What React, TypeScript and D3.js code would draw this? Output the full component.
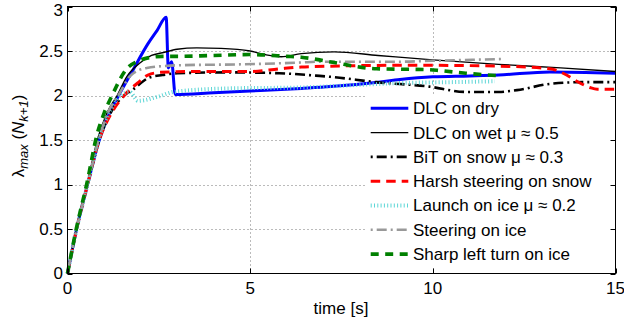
import * as d3 from 'd3'

// time [s], lambda_max values
const dlcDry: [number, number][] = [
  [0, 0], [0.25, 0.5], [0.55, 1.0], [0.87, 1.5], [1.15, 1.8], [1.4, 2.0], [1.77, 2.27],
  [2.2, 2.58], [2.45, 2.73], [2.7, 2.88], [2.76, 2.31], [2.85, 2.38], [2.95, 2.01],
  [4, 2.03], [5, 2.05], [6.4, 2.08], [7.2, 2.1], [8.5, 2.15], [9.1, 2.18], [10, 2.21],
  [11, 2.22], [11.8, 2.23], [13.2, 2.265], [15, 2.25],
]
const dlcWet: [number, number][] = [
  [0, 0], [0.25, 0.5], [0.55, 1.02], [0.83, 1.52], [1.1, 1.82], [1.36, 2.0], [1.62, 2.21],
  [2.0, 2.37], [2.3, 2.45], [2.6, 2.48], [3.0, 2.52], [3.54, 2.535], [4.2, 2.53], [5, 2.5],
  [5.4, 2.46], [5.85, 2.435], [6.4, 2.47], [7.3, 2.49], [8.5, 2.45], [10, 2.4], [11.8, 2.35],
  [13.5, 2.31], [15, 2.27],
]
const bitSnow: [number, number][] = [
  [0, 0], [0.25, 0.5], [0.55, 1.0], [0.87, 1.5], [1.2, 1.82], [1.55, 2.0], [1.77, 2.06],
  [2.23, 2.2], [2.6, 2.23], [3.0, 2.25], [4.45, 2.26], [5.8, 2.25], [6.9, 2.22], [7.2, 2.21],
  [8.45, 2.15], [9.9, 2.1], [10.9, 2.04], [11.8, 2.04], [12.3, 2.06], [13.2, 2.13],
  [14.1, 2.15], [15, 2.15],
]
const harshSnow: [number, number][] = [
  [0, 0], [0.25, 0.5], [0.55, 1.0], [0.87, 1.5], [1.2, 1.8], [1.55, 2.0], [1.95, 2.15],
  [2.2, 2.23], [2.54, 2.26], [3.45, 2.27], [5, 2.27], [5.8, 2.3], [6.4, 2.32], [7.2, 2.33],
  [9.5, 2.34], [11.8, 2.33], [13.2, 2.3], [13.66, 2.23], [13.9, 2.17], [14.3, 2.09],
  [14.5, 2.07], [15, 2.07],
]
const launchIce: [number, number][] = [
  [0, 0], [0.25, 0.5], [0.55, 1.0], [0.86, 1.5], [1.2, 1.85], [1.45, 2.0], [1.7, 2.04],
  [1.93, 1.94], [2.5, 1.99], [2.9, 2.04], [4.45, 2.08], [6.4, 2.09], [8, 2.12], [9.1, 2.14],
  [10.5, 2.15], [11.7, 2.16],
]
const steeringIce: [number, number][] = [
  [0, 0], [0.25, 0.5], [0.55, 1.0], [0.85, 1.5], [1.1, 1.8], [1.42, 2.02], [1.72, 2.22],
  [2.17, 2.31], [3.08, 2.34], [4.7, 2.35], [6.36, 2.37], [6.9, 2.38], [9.1, 2.38],
  [10, 2.39], [11.9, 2.41],
]
const sharpLeftIce: [number, number][] = [
  [0, 0], [0.25, 0.52], [0.55, 1.05], [0.8, 1.55], [1.0, 1.8], [1.22, 2.0], [1.62, 2.3],
  [1.9, 2.38], [2.17, 2.42], [2.6, 2.44], [3.0, 2.44], [4.0, 2.45], [5.0, 2.46], [6.0, 2.44],
  [6.4, 2.43], [6.9, 2.4], [7.3, 2.37], [8.46, 2.3], [9.9, 2.29], [10.2, 2.28],
  [10.9, 2.25], [11.9, 2.22],
]

const xTicks = [0, 5, 10, 15]
const yTicks = [0, 0.5, 1, 1.5, 2, 2.5, 3]

const series = [
  { label: 'DLC on dry', data: dlcDry, color: '#0000ff', width: 3, dash: null },
  { label: 'DLC on wet μ ≈ 0.5', data: dlcWet, color: '#000000', width: 1.4, dash: null },
  { label: 'BiT on snow μ ≈ 0.3', data: bitSnow, color: '#000000', width: 2.6, dash: '2,4,10,4' },
  { label: 'Harsh steering on snow', data: harshSnow, color: '#ff0000', width: 3, dash: '9.5,6' },
  { label: 'Launch on ice μ ≈ 0.2', data: launchIce, color: '#5cd6d6', width: 4, dash: '1,2.3' },
  { label: 'Steering on ice', data: steeringIce, color: '#999999', width: 2.6, dash: '2,4,10,4' },
  { label: 'Sharp left turn on ice', data: sharpLeftIce, color: '#008000', width: 3.6, dash: '8,6.5' },
]

const W = 624
const H = 321
const font = '"Liberation Sans", Arial, Helvetica, sans-serif'

export default function App() {
  const x = d3.scaleLinear().domain([0, 15]).range([67.5, 615.5])
  const y = d3.scaleLinear().domain([0, 3]).range([273.5, 6.5])
  const line = d3.line<[number, number]>()
    .x(d => x(d[0])).y(d => y(d[1]))
    .curve(d3.curveMonotoneX)

  const [x0, x1] = x.range()
  const [y0, y1] = y.range()
  const tick = 5

  const legX = 370.7
  const legY = 108.3
  const legStep = 24.3

  return (
    <div style={{ position: 'fixed', left: 0, top: 0, width: W, height: H, background: '#fff' }}>
      <svg width={W} height={H} style={{ display: 'block', fontFamily: font }}>
        <rect width={W} height={H} fill="#fff" />

        {/* grid */}
        <g stroke="#666" strokeWidth={0.9} strokeDasharray="1,3">
          {xTicks.filter(t => t > 0 && t < 15).map(t => (
            <line key={'gx' + t} x1={Math.round(x(t)) + 0.5} x2={Math.round(x(t)) + 0.5} y1={y0} y2={y1} />
          ))}
          {yTicks.filter(t => t > 0 && t < 3).map(t => (
            <line key={'gy' + t} x1={x0} x2={x1} y1={Math.round(y(t)) + 0.5} y2={Math.round(y(t)) + 0.5} />
          ))}
        </g>

        {/* series */}
        <g fill="none" strokeLinejoin="round">
          {series.map(s => (
            <path key={s.label} d={line(s.data) || ''} stroke={s.color} strokeWidth={s.width}
              strokeDasharray={s.dash || undefined} />
          ))}
        </g>

        {/* legend */}
        <rect x={366} y={95} width={245} height={172} fill="#fff" />
        {series.map((s, i) => {
          const ly = legY + i * legStep
          return (
            <g key={'leg' + s.label}>
              <line x1={legX} x2={legX + 37.6} y1={ly} y2={ly} stroke={s.color} strokeWidth={s.width}
                strokeDasharray={s.dash || undefined} />
              <text x={413} y={ly} dy="0.35em" fontSize={17} fill="#000">{s.label}</text>
            </g>
          )
        })}

        {/* axes box + ticks */}
        <g stroke="#000" strokeWidth={1} fill="none">
          <rect x={x0} y={y1} width={x1 - x0} height={y0 - y1} />
          {xTicks.map(t => {
            const px = Math.round(x(t)) + 0.5
            return (
              <g key={'tx' + t}>
                <line x1={px} x2={px} y1={y0} y2={y0 - tick} />
                <line x1={px} x2={px} y1={y1} y2={y1 + tick} />
              </g>
            )
          })}
          {yTicks.map(t => {
            const py = Math.round(y(t)) + 0.5
            return (
              <g key={'ty' + t}>
                <line x1={x0} x2={x0 + tick} y1={py} y2={py} />
                <line x1={x1} x2={x1 - tick} y1={py} y2={py} />
              </g>
            )
          })}
        </g>

        {/* tick labels */}
        <g fontSize={17} fill="#000">
          {xTicks.map(t => (
            <text key={'lx' + t} x={x(t)} y={294} textAnchor="middle">{String(t)}</text>
          ))}
          {yTicks.map(t => (
            <text key={'ly' + t} x={63} y={Math.max(y(t), 10)} dy="0.35em" textAnchor="end">{String(t)}</text>
          ))}
        </g>

        <text x={341} y={314} fontSize={17} textAnchor="middle" fill="#000">time [s]</text>

        <text transform="translate(24,136) rotate(-90)" fontSize={17} textAnchor="middle" fill="#000">
          <tspan>λ</tspan>
          <tspan fontSize={13} fontStyle="italic" dy={4}>max</tspan>
          <tspan dy={-4}> (</tspan>
          <tspan fontStyle="italic">N</tspan>
          <tspan fontSize={13} fontStyle="italic" dy={4}>k+1</tspan>
          <tspan dy={-4}>)</tspan>
        </text>
      </svg>
    </div>
  )
}
